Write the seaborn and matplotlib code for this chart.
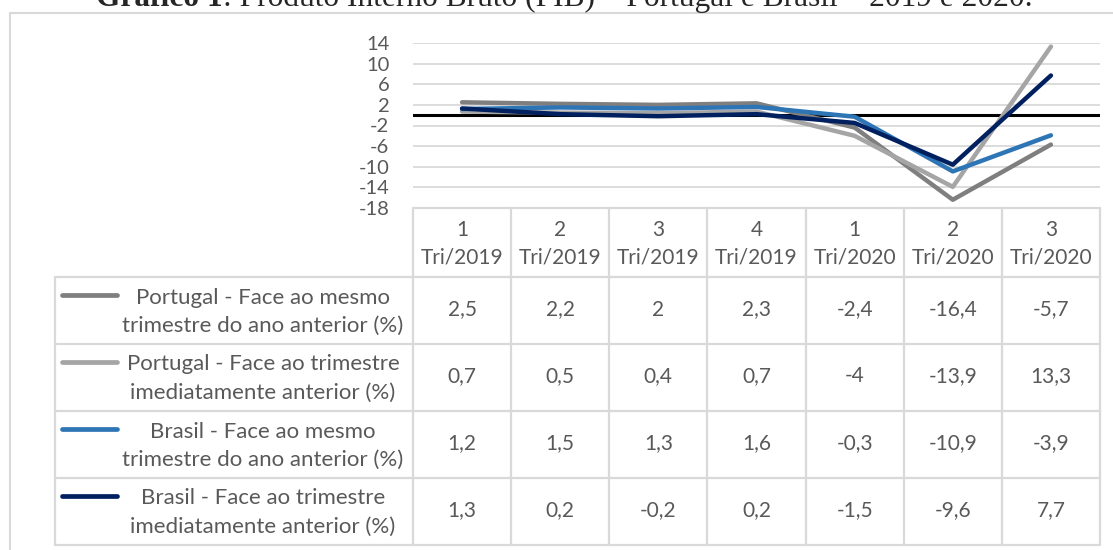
import matplotlib
matplotlib.use('Agg')
import matplotlib.pyplot as plt
import pandas as pd
import seaborn as sns

quarters = ['1\nTri/2019', '2\nTri/2019', '3\nTri/2019', '4\nTri/2019',
            '1\nTri/2020', '2\nTri/2020', '3\nTri/2020']
series_names = ['Portugal - Face ao mesmo\ntrimestre do ano anterior (%)',
                'Portugal - Face ao trimestre\nimediatamente anterior (%)',
                'Brasil - Face ao mesmo\ntrimestre do ano anterior (%)',
                'Brasil - Face ao trimestre\nimediatamente anterior (%)']
pt_mesmo = [2.5, 2.2, 2.0, 2.3, -2.4, -16.4, -5.7]
pt_anterior = [0.7, 0.5, 0.4, 0.7, -4.0, -13.9, 13.3]
br_mesmo = [1.2, 1.5, 1.3, 1.6, -0.3, -10.9, -3.9]
br_anterior = [1.3, 0.2, -0.2, 0.2, -1.5, -9.6, 7.7]
y_ticks = [14, 10, 6, 2, -2, -6, -10, -14, -18]

colors = ['#7f7f7f', '#a5a5a5', '#2e75b6', '#002060']
text_color = '#595959'
grid_color = '#d9d9d9'

all_values = [pt_mesmo, pt_anterior, br_mesmo, br_anterior]
df = pd.DataFrame({
    'pos': list(range(len(quarters))) * len(series_names),
    'serie': [s for s in series_names for _ in quarters],
    'valor': [v for vals in all_values for v in vals],
})

sns.set_theme(style='white')
plt.rcParams['font.family'] = ['Lato', 'DejaVu Sans']

W, H = 1113, 550
fig = plt.figure(figsize=(W / 100, H / 100), dpi=100)
fig.patch.set_facecolor('white')

# layout in pixels
plot_left, plot_right = 413, 1100
plot_top, plot_bottom = 43, 208
legend_left = 55
header_bottom = 277
row_h = 67

# overlay axes in pixel coordinates for the data table and frame
ov = fig.add_axes([0, 0, 1, 1], zorder=0)
ov.set_xlim(0, W)
ov.set_ylim(H, 0)
ov.axis('off')
ov.patch.set_alpha(0)

ax = fig.add_axes([plot_left / W, 1 - plot_bottom / H,
                   (plot_right - plot_left) / W, (plot_bottom - plot_top) / H], zorder=1)
ax.patch.set_alpha(0)

sns.lineplot(data=df, x='pos', y='valor', hue='serie', hue_order=series_names,
             palette=colors, linewidth=3.2, ax=ax, legend=False)
for ln in ax.lines:
    ln.set_solid_capstyle('round')
    ln.set_solid_joinstyle('round')
ax.axhline(0, color='black', lw=2.2, zorder=1.9)

ax.set_xlim(-0.5, len(quarters) - 0.5)
ax.set_ylim(min(y_ticks), max(y_ticks))
ax.set_yticks(y_ticks)
ax.set_yticklabels([str(t) for t in y_ticks])
ax.set_xticks([])
ax.set_xlabel('')
ax.set_ylabel('')
ax.tick_params(axis='y', length=0, pad=17, labelsize=14.5, labelcolor=text_color)
ax.grid(axis='y', color=grid_color, lw=1.3)
ax.set_axisbelow(True)
for sp in ax.spines.values():
    sp.set_visible(False)

# outer chart frame
ov.plot([10, W], [13, 13], color=grid_color, lw=1.5)
ov.plot([10, 10], [13, H], color=grid_color, lw=1.5)

# data table grid
col_w = (plot_right - plot_left) / len(quarters)
edges = [plot_left + i * col_w for i in range(len(quarters) + 1)]
table_bottom = header_bottom + row_h * len(series_names)
ov.plot([plot_left, plot_right], [plot_bottom, plot_bottom], color=grid_color, lw=1.6)
for k in range(len(series_names) + 1):
    yy = header_bottom + k * row_h
    ov.plot([legend_left, plot_right], [yy, yy], color=grid_color, lw=1.6)
for e in edges:
    ov.plot([e, e], [plot_bottom, table_bottom], color=grid_color, lw=1.6)
ov.plot([legend_left, legend_left], [header_bottom, table_bottom], color=grid_color, lw=1.6)

# header labels
for i, q in enumerate(quarters):
    ov.text(edges[i] + col_w / 2, (plot_bottom + header_bottom) / 2 + 1, q,
            ha='center', va='center', fontsize=15, color=text_color, linespacing=1.45)

# rows
def fmt(v):
    return f'{v:g}'.replace('.', ',')

for r, (name, vals) in enumerate(zip(series_names, all_values)):
    top = header_bottom + r * row_h
    cy = top + row_h / 2
    ov.plot([62, 117], [top + 18, top + 18], color=colors[r], lw=3.4,
            solid_capstyle='round')
    ov.text(263, cy + 1, name, ha='center', va='center', multialignment='center',
            fontsize=16, color=text_color, linespacing=1.5)
    for i, v in enumerate(vals):
        ov.text(edges[i] + col_w / 2, cy + 5, fmt(v), ha='center', va='baseline',
                fontsize=15, color=text_color)

# title, clipped at the top like the source
t1 = fig.text(96 / W, 1 - 6 / H, 'Gráfico 1', family='Liberation Serif',
              fontweight='bold', fontsize=22.6, va='baseline')
fig.canvas.draw()
bb = t1.get_window_extent()
fig.text(bb.x1 / W, 1 - 6 / H, ': Produto Interno Bruto (PIB) – Portugal e Brasil – 2019 e 2020.',
         family='Liberation Serif', fontsize=22.6, va='baseline')

fig.savefig('out.png', dpi=100)
